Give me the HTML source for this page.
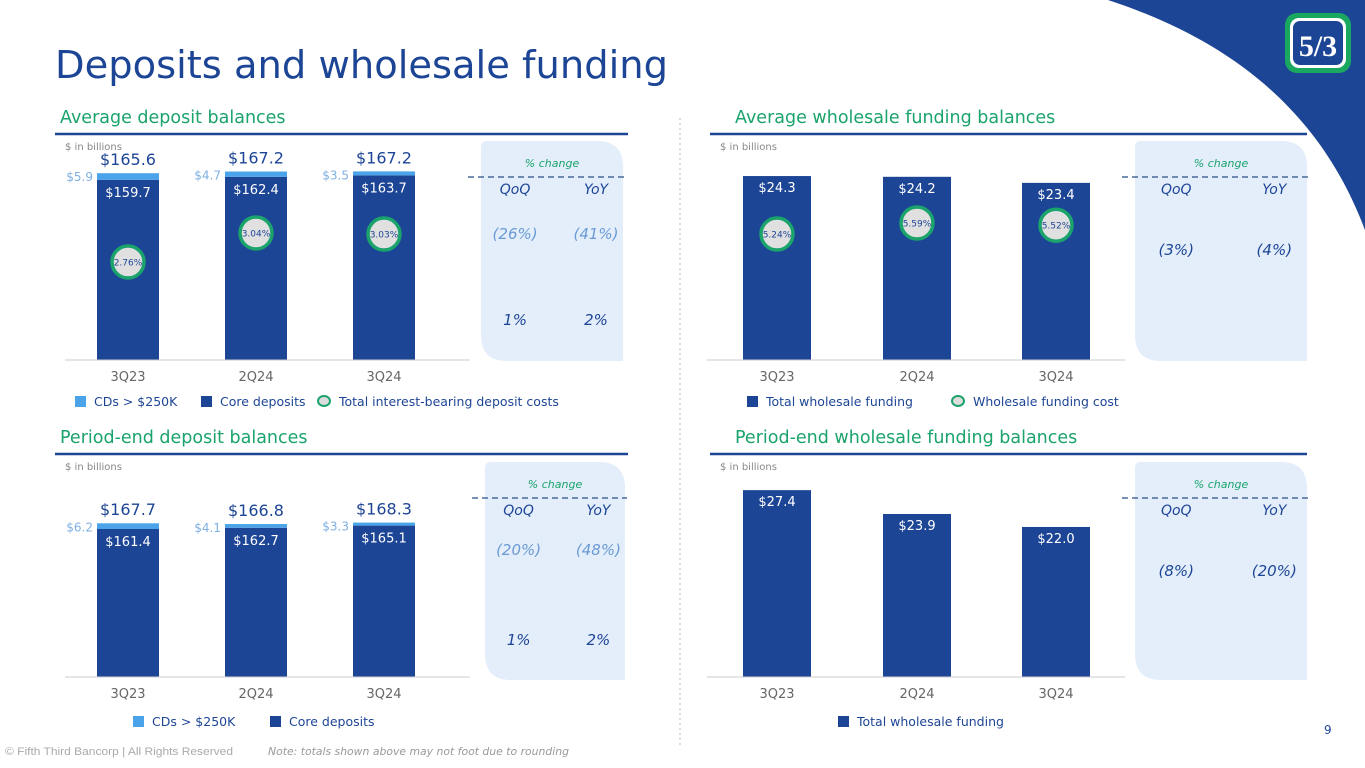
<!DOCTYPE html>
<html><head><meta charset="utf-8">
<style>
html,body{margin:0;padding:0;background:#fff;}
svg{display:block;font-family:"DejaVu Sans","Liberation Sans",sans-serif;}
</style></head>
<body>
<svg id="s" width="1365" height="768" viewBox="0 0 1365 768" xmlns="http://www.w3.org/2000/svg">
<path d="M1108,0 C1230,40 1320,110 1365,230 L1365,0 Z" fill="#1d4596"/>
<g>
<rect x="1285" y="13" width="66" height="60" rx="12" fill="#1aa860"/>
<rect x="1290" y="18" width="56" height="50" rx="9" fill="#fff"/>
<rect x="1293" y="21" width="50" height="44" rx="7" fill="#1d4596"/>
<text x="1318" y="56" text-anchor="middle" font-size="30" font-weight="bold" fill="#fff" font-family="Liberation Serif,serif">5/3</text>
</g>
<text x="55" y="78" font-size="38" fill="#1d4596" textLength="613" lengthAdjust="spacingAndGlyphs">Deposits and wholesale funding</text>
<line x1="680" y1="118" x2="680" y2="745" stroke="#bbb" stroke-dasharray="2,3"/>
<g id="g"></g>
<text x="5" y="755" font-size="11" fill="#aaa" font-family="Liberation Sans,sans-serif" textLength="228" lengthAdjust="spacingAndGlyphs">© Fifth Third Bancorp | All Rights Reserved</text>
<text x="268" y="755" font-size="11" font-style="italic" fill="#999" textLength="301" lengthAdjust="spacingAndGlyphs">Note: totals shown above may not foot due to rounding</text>
<text x="1324" y="734" font-size="12" fill="#1d4596">9</text>
</svg>
<script>
// Data
const categories = ["3Q23","2Q24","3Q24"];
const avgCore = [159.7,162.4,163.7];
const avgCDs = [5.9,4.7,3.5];
const avgTotal = [165.6,167.2,167.2];
const avgDepCost = [2.76,3.04,3.03];
const avgWholesale = [24.3,24.2,23.4];
const wholesaleCost = [5.24,5.59,5.52];
const peCore = [161.4,162.7,165.1];
const peCDs = [6.2,4.1,3.3];
const peTotal = [167.7,166.8,168.3];
const peWholesale = [27.4,23.9,22.0];
const chgAvgDep = {qoq:["(26%)","1%"], yoy:["(41%)","2%"]};
const chgAvgWh = {qoq:["(3%)"], yoy:["(4%)"]};
const chgPeDep = {qoq:["(20%)","1%"], yoy:["(48%)","2%"]};
const chgPeWh = {qoq:["(8%)"], yoy:["(20%)"]};

const NS="http://www.w3.org/2000/svg";
const G=document.getElementById('g');
const DARK="#1d4596", LIGHT="#4ba3ea", GREEN="#1aa36b";
function el(tag,attrs,parent){const e=document.createElementNS(NS,tag);for(const k in attrs)e.setAttribute(k,attrs[k]);(parent||G).appendChild(e);return e;}
function txt(x,y,s,size,fill,extra){const e=el('text',Object.assign({x:x,y:y,'font-size':size,fill:fill},extra||{}));e.textContent=s;return e;}

function header(x,y,lx1,lx2,label,name){
  const t=txt(x,y,label,17.5,GREEN);
  
  
  const l=el('line',{x1:lx1,y1:y+11,x2:lx2,y2:y+11,stroke:DARK,'stroke-width':2.5});
  
  
  const u=txt(lx1+10,y+27,"$ in billions",10,"#888");
  
  
}
function panel(x,y,w,h,chg,rows,name){
  const r=26, r0=6;
  const p=el('path',{d:`M${x},${y+r0} Q${x},${y} ${x+r0},${y} H${x+w-r} Q${x+w},${y} ${x+w},${y+r} V${y+h} H${x+r} Q${x},${y+h} ${x},${y+h-r} Z`,fill:"#e3eefa"});
  
  
  const cx=x+w/2;
  const t=txt(cx,y+26,"% change",11,GREEN,{'text-anchor':'middle','font-style':'italic'});
  
  
  el('line',{x1:x-13,y1:y+36,x2:x+w+2,y2:y+36,stroke:"#4a6a9a",'stroke-width':1.5,'stroke-dasharray':'6,4'});
  const qx=x+w*0.24, yx=x+w*0.81;
  txt(qx,y+53,"QoQ",14,DARK,{'text-anchor':'middle','font-style':'italic'});
  txt(yx,y+53,"YoY",14,DARK,{'text-anchor':'middle','font-style':'italic'});
  chg.qoq.forEach((v,i)=>{
    const col=rows[i].c;
    const a=txt(qx,y+rows[i].y,v,15,col,{'text-anchor':'middle','font-style':'italic'});
    
    
    const b=txt(yx,y+rows[i].y,chg.yoy[i],15,col,{'text-anchor':'middle','font-style':'italic'});
    
    
  });
}
function axis(x1,x2,y,xs,name){
  const l=el('line',{x1:x1,y1:y,x2:x2,y2:y,stroke:"#ccc",'stroke-width':1});
  
  
  categories.forEach((c,i)=>{
    const t=txt(xs[i],y+21,c,13,"#666",{'text-anchor':'middle'});
    
    
  });
}
function legendSq(x,y,c,label){
  const r=el('rect',{x:x,y:y-10,width:11,height:11,fill:c});
  
  
  const t=txt(x+19,y,label,12.5,DARK);
  
  
}
function legendOv(x,y,label){
  const e=el('ellipse',{cx:x,cy:y-5,rx:6,ry:5,fill:"#ddd",stroke:GREEN,'stroke-width':2});
  
  
  const t=txt(x+15,y,label,12.5,DARK);
  
  
}
function bubble(cx,cy,label,name){
  const c=el('circle',{cx:cx,cy:cy,r:16,fill:"#e0e0e0",stroke:GREEN,'stroke-width':3.5});
  
  
  txt(cx,cy+3.5,label,9,DARK,{'text-anchor':'middle'});
}
function stacked(xs,w,base,scale,core,cds,tot,name){
  const Y=v=>base-v*scale;
  xs.forEach((cx,i)=>{
    const b=el('rect',{x:cx-w/2,y:Y(core[i]),width:w,height:base-Y(core[i]),fill:DARK});
    
    
    const c=el('rect',{x:cx-w/2,y:Y(core[i]+cds[i]),width:w,height:cds[i]*scale,fill:LIGHT});
    
    
    const t1=txt(cx,Y(tot[i])-8,"$"+tot[i].toFixed(1),16,DARK,{'text-anchor':'middle'});
    
    
    const t2=txt(cx,Y(core[i])+17,"$"+core[i].toFixed(1),13,"#fff",{'text-anchor':'middle'});
    
    
    const t3=txt(cx-w/2-4,Y(core[i]+cds[i])+8,"$"+cds[i].toFixed(1),12,"#7fb0e3",{'text-anchor':'end'});
    
    
  });
}
function single(xs,w,base,scale,vals,name){
  const Y=v=>base-v*scale;
  xs.forEach((cx,i)=>{
    const b=el('rect',{x:cx-w/2,y:Y(vals[i]),width:w,height:base-Y(vals[i]),fill:DARK});
    
    
    const t=txt(cx,Y(vals[i])+16,"$"+vals[i].toFixed(1),13,"#fff",{'text-anchor':'middle'});
    
    
  });
}

const xsL=[128,256,384], xsR=[777,917,1056];
header(60,123,55,628,"Average deposit balances","avg-deposit");
stacked(xsL,62,360,1.128,avgCore,avgCDs,avgTotal,"avg-deposit");
const rateY1=r=>262-(r-2.76)*103.6;
avgDepCost.forEach((r,i)=>bubble(xsL[i],rateY1(r),r.toFixed(2)+"%","deposit-cost-marker"));
axis(65,470,360,xsL,"avg-deposit");
panel(481,141,142,220,chgAvgDep,[{y:98,c:"#6a9ad6"},{y:184,c:DARK}],"avg-deposit");
legendSq(75,406,LIGHT,"CDs > $250K");
legendSq(201,406,DARK,"Core deposits");
legendOv(324,406,"Total interest-bearing deposit costs");

header(735,123,710,1307,"Average wholesale funding balances","avg-wholesale");
single(xsR,68,360,7.57,avgWholesale,"avg-wholesale");
const rateY2=r=>234-(r-5.24)*31.4;
wholesaleCost.forEach((r,i)=>bubble(xsR[i],rateY2(r),r.toFixed(2)+"%","wholesale-cost-marker"));
axis(707,1125,360,xsR,"avg-wholesale");
panel(1135,141,172,220,chgAvgWh,[{y:114,c:DARK}],"avg-wholesale");
legendSq(747,406,DARK,"Total wholesale funding");
legendOv(958,406,"Wholesale funding cost");

header(60,443,55,628,"Period-end deposit balances","pe-deposit");
stacked(xsL,62,677,0.917,peCore,peCDs,peTotal,"pe-deposit");
axis(65,470,677,xsL,"pe-deposit");
panel(485,462,140,218,chgPeDep,[{y:93,c:"#6a9ad6"},{y:183,c:DARK}],"pe-deposit");
legendSq(133,726,LIGHT,"CDs > $250K");
legendSq(270,726,DARK,"Core deposits");

header(735,443,710,1307,"Period-end wholesale funding balances","pe-wholesale");
single(xsR,68,677,6.82,peWholesale,"pe-wholesale");
axis(707,1125,677,xsR,"pe-wholesale");
panel(1135,462,172,218,chgPeWh,[{y:114,c:DARK}],"pe-wholesale");
legendSq(838,726,DARK,"Total wholesale funding");
</script>
</body></html>
